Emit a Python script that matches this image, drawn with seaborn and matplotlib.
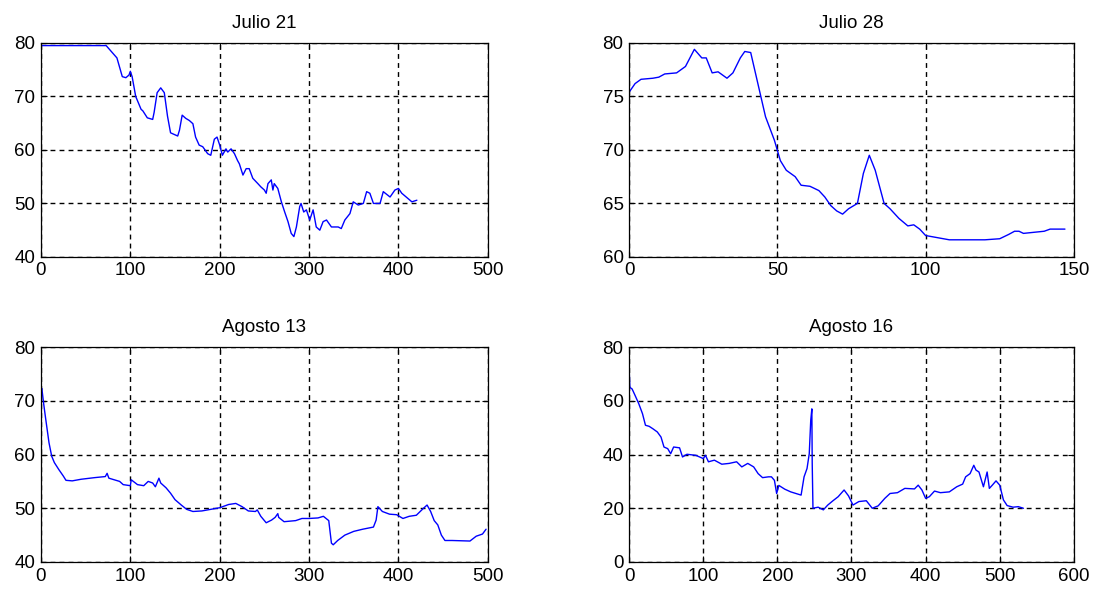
import pandas as pd
import matplotlib
matplotlib.use("Agg")
import matplotlib.pyplot as plt
import seaborn as sns

# Julio 21
jul21_x = [0, 73, 74, 85, 91, 95, 98.5, 100, 102, 106, 112, 114, 119, 125, 126.6, 130, 134, 138,
           141.6, 145, 153, 155, 158, 162, 166, 170, 173, 177, 181, 186.5, 190, 194, 197, 200,
           203, 207, 209, 212.7, 216.5, 220, 222, 226, 229.6, 233, 237, 242.7, 246, 250, 252,
           254, 257.7, 259.5, 261, 265, 269, 272.7, 276.4, 280, 283, 285.8, 289.5, 291, 294,
           297, 300.7, 304.5, 308, 312, 315.7, 319.5, 325, 332.6, 336, 340, 345.7, 349.4, 355,
           360.7, 364.4, 368, 372, 379.4, 383, 390.6, 396, 400, 403.7, 415, 420.6]
jul21_y = [79.5, 79.5, 79.3, 77.2, 73.7, 73.5, 74.0, 74.7, 73.7, 70.0, 67.6, 67.3, 66.0, 65.7, 67.0,
           70.7, 71.6, 70.7, 66.3, 63.2, 62.6, 63.7, 66.5, 65.9, 65.5, 64.9, 62.4, 60.9, 60.6,
           59.3, 59.0, 62.0, 62.4, 60.9, 59.0, 60.2, 59.6, 60.2, 59.3, 58.0, 57.4, 55.3, 56.5,
           56.5, 54.7, 53.7, 53.1, 52.5, 51.9, 53.7, 54.4, 52.5, 53.7, 52.8, 50.3, 48.4, 46.6,
           44.4, 43.8, 45.6, 49.4, 50.0, 48.4, 48.8, 46.9, 48.8, 45.6, 45.0, 46.6, 46.9, 45.6,
           45.6, 45.3, 46.9, 48.1, 50.3, 49.7, 50.0, 52.2, 51.9, 50.0, 50.0, 52.2, 51.2, 52.5,
           52.8, 51.9, 50.3, 50.6]

# Julio 28
jul28_x = [0, 2, 4, 8, 10, 12, 16, 19, 22, 24.5, 26, 28, 30, 33, 35, 37.5, 39, 41, 43, 46, 49,
           51, 53, 56, 58, 61, 64, 66, 68, 70, 72, 74, 77, 79, 81, 83, 86, 88, 91, 94, 96, 98,
           100, 104, 108, 120, 125, 128, 130, 131.5, 133, 140, 142, 147]
jul28_y = [75.4, 76.2, 76.6, 76.7, 76.8, 77.1, 77.2, 77.8, 79.4, 78.6, 78.6, 77.2, 77.3, 76.7,
           77.2, 78.6, 79.2, 79.1, 76.7, 73.1, 70.9, 69.0, 68.1, 67.5, 66.7, 66.6, 66.2, 65.6,
           64.8, 64.3, 64.0, 64.5, 65.0, 67.8, 69.5, 68.1, 65.0, 64.5, 63.6, 62.9, 63.0, 62.6,
           62.0, 61.8, 61.6, 61.6, 61.7, 62.1, 62.4, 62.4, 62.2, 62.4, 62.6, 62.6]

# Agosto 13
ago13_x = [0, 1, 3, 5, 7, 9, 12, 15, 20, 25, 28, 35, 45, 60, 72, 74, 76, 80, 88, 92, 100, 101,
           108, 115, 120, 125, 128, 132, 134, 140, 145, 150, 157, 163, 170, 180, 190, 200, 210,
           218, 225, 232, 240, 242, 246, 252, 258, 262, 265, 266, 272, 285, 292, 300, 310, 316,
           322, 325, 327, 332, 340, 350, 360, 372, 375, 377, 382, 390, 398, 405, 412, 420, 428,
           432, 436, 440, 444, 448, 452, 460, 480, 487, 494, 498]
ago13_y = [72.0, 72.3, 69.5, 67.0, 64.6, 62.2, 59.7, 58.5, 57.2, 56.0, 55.2, 55.1, 55.4, 55.7,
           55.9, 56.5, 55.6, 55.4, 55.0, 54.4, 54.2, 55.3, 54.4, 54.2, 55.0, 54.7, 54.0, 55.6,
           54.7, 53.8, 52.8, 51.6, 50.6, 49.8, 49.4, 49.5, 49.8, 50.1, 50.7, 50.9, 50.3, 49.5,
           49.4, 49.7, 48.5, 47.3, 47.8, 48.3, 49.0, 48.3, 47.5, 47.7, 48.1, 48.1, 48.2, 48.5,
           47.7, 43.5, 43.2, 44.0, 45.0, 45.7, 46.1, 46.5, 47.8, 50.3, 49.4, 48.9, 48.8, 48.1,
           48.5, 48.7, 50.0, 50.6, 49.4, 47.7, 46.9, 45.0, 44.0, 44.0, 43.9, 44.8, 45.2, 46.1]

# Agosto 16
ago16_x = [0, 1, 4, 8, 13, 18, 22, 27, 32, 38, 43, 47, 52, 56, 60, 68, 72, 78, 90, 100, 103,
           107, 115, 125, 135, 145, 152, 160, 168, 174, 180, 188, 192, 196, 199, 202, 210, 218,
           225, 232, 236, 240, 243, 245, 246.5, 247, 248, 255, 262, 268, 275, 282, 290, 296,
           302, 310, 320, 328, 336, 345, 352, 362, 372, 385, 390, 395, 400, 405, 412, 420, 432,
           442, 450, 454, 460, 465, 468, 472, 478, 483, 486, 490, 495, 500, 505, 510, 518, 525,
           532]
ago16_y = [71.2, 65.0, 64.4, 62.0, 58.9, 55.2, 50.9, 50.5, 49.6, 48.4, 46.5, 42.8, 42.2, 40.3,
           42.8, 42.5, 39.1, 40.1, 39.7, 38.5, 39.7, 37.3, 37.9, 36.4, 36.7, 37.3, 35.4, 36.7,
           35.4, 32.9, 31.4, 31.7, 31.7, 30.4, 25.5, 28.5, 27.1, 26.1, 25.5, 24.9, 31.7, 34.8,
           40.3, 52.7, 57.0, 36.7, 20.0, 20.4, 19.4, 21.2, 22.8, 24.3, 26.8, 24.6, 21.2, 22.5,
           22.8, 20.0, 20.9, 23.7, 25.5, 25.8, 27.4, 27.2, 28.6, 26.8, 23.7, 24.3, 26.4, 25.8,
           26.1, 28.0, 29.0, 31.7, 32.9, 36.0, 34.2, 33.5, 28.0, 33.5, 27.4, 28.6, 30.2, 28.6,
           23.1, 21.0, 20.4, 20.6, 20.0]

panels = [
    ("Julio 21", jul21_x, jul21_y, (0, 500), (40, 80), [0, 100, 200, 300, 400, 500], [40, 50, 60, 70, 80]),
    ("Julio 28", jul28_x, jul28_y, (0, 150), (60, 80), [0, 50, 100, 150], [60, 65, 70, 75, 80]),
    ("Agosto 13", ago13_x, ago13_y, (0, 500), (40, 80), [0, 100, 200, 300, 400, 500], [40, 50, 60, 70, 80]),
    ("Agosto 16", ago16_x, ago16_y, (0, 600), (0, 80), [0, 100, 200, 300, 400, 500, 600], [0, 20, 40, 60, 80]),
]

sns.set_style("white")
plt.rcParams['font.family'] = ['Liberation Sans', 'DejaVu Sans']
plt.rcParams['text.color'] = 'black'
plt.rcParams['xtick.color'] = 'black'
plt.rcParams['ytick.color'] = 'black'

fig = plt.figure(figsize=(10.98, 5.92), dpi=100)
positions = [
    [0.0373, 0.566, 0.407, 0.3615],
    [0.573, 0.566, 0.405, 0.3615],
    [0.0373, 0.0507, 0.407, 0.363],
    [0.573, 0.0507, 0.405, 0.363],
]

for (title, xs, ys, xlim, ylim, xt, yt), pos in zip(panels, positions):
    ax = fig.add_axes(pos)
    df = pd.DataFrame({"x": xs, "y": ys})
    sns.lineplot(data=df, x="x", y="y", ax=ax, color="blue", linewidth=1.0,
                 estimator=None, sort=False)
    ax.set_xlim(*xlim)
    ax.set_ylim(*ylim)
    ax.set_xticks(xt)
    ax.set_yticks(yt)
    ax.set_xlabel("")
    ax.set_ylabel("")
    ax.set_title(title, fontsize=13.5, pad=11, color="black")
    ax.grid(True, color="black", linestyle=(0, (3.5, 3)), linewidth=1.0)
    ax.tick_params(direction="in", length=4, width=0.8, labelsize=13.5, color="black",
                   labelcolor="black", top=True, right=True, bottom=True, left=True, pad=4)
    for spine in ax.spines.values():
        spine.set_visible(True)
        spine.set_color("black")
        spine.set_linewidth(0.9)

fig.savefig("out.png", dpi=100)
